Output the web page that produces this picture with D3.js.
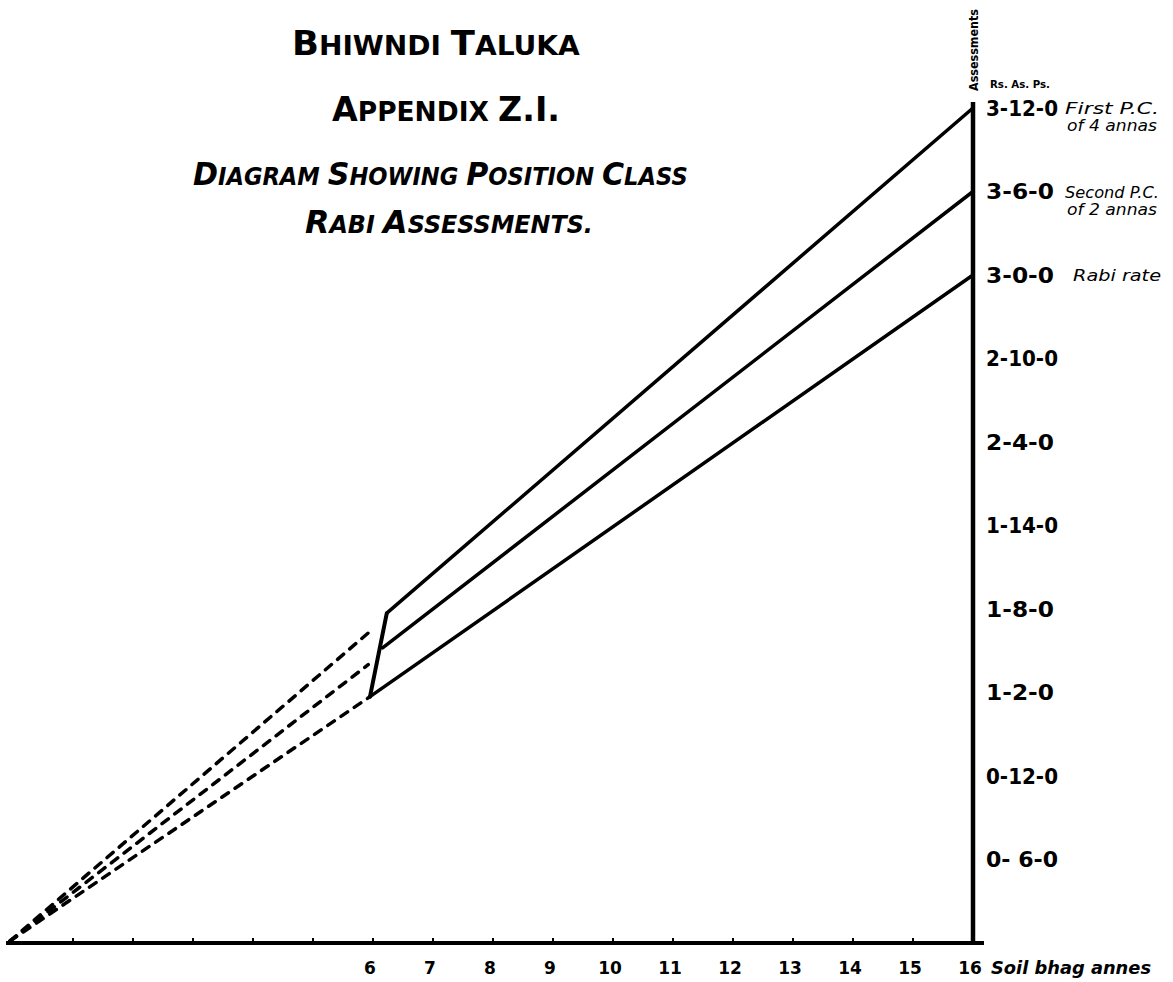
<!DOCTYPE html>
<html>
<head>
<meta charset="utf-8">
<script src="https://cdn.jsdelivr.net/npm/d3@7"></script>
<style>
  body { margin: 0; background: #fff; }
  text { font-family: "DejaVu Sans", sans-serif; fill: #000; }
</style>
</head>
<body>
<script>
// Data (assessment in annas, 16 annas = 1 rupee)
const soilAnnas = [6, 7, 8, 9, 10, 11, 12, 13, 14, 15, 16]
const minorTicks = [1, 2, 3, 4, 5]
const assessTicks = [6, 12, 18, 24, 30, 36, 42, 48, 54, 60]
const assessLabels = ["0- 6-0", "0-12-0", "1-2-0", "1-8-0", "1-14-0", "2-4-0", "2-10-0", "3-0-0", "3-6-0", "3-12-0"]

const seriesNames = ["First P.C. of 4 annas", "Second P.C. of 2 annas", "Rabi rate"]
// solid part : starts on the slanted joining line, ends at 16 annas soil
const solidStartSoil = [6.23, 6.16, 5.95]
const solidStartValue = [23.7, 21.2, 17.7]
const solidEndValue = [60, 54, 48]
// dashed part : from the origin to 6 annas soil
const dashedEndSoil = [5.98, 5.92, 5.95]
const dashedEndValue = [22.5, 20.0, 17.7]

const width = 1173, height = 982

const svg = d3.select("body")
        .append("svg")
        .attr("width", width)
        .attr("height", height)
        .style("background-color", "#fff")

const x = d3.scaleLinear().domain([0, 16]).range([13, 973])
const y = d3.scaleLinear().domain([0, 60]).range([943, 108])

// squeeze or stretch a text horizontally so it covers [x0, x0 + w]
function fitText(t, x0, y0, w) {
        const box = t.node().getBBox()
        const k = w / box.width
        t.attr("x", 0).attr("y", 0)
                .attr("transform", `translate(${x0},${y0}) scale(${k},1)`)
}

// Titles (small caps written by hand)
function smallCaps(parts, attrs) {
        const t = svg.append("text").attr("font-weight", "bold")
        if (attrs.italic) t.attr("font-style", "italic")
        parts.forEach(p => {
                t.append("tspan")
                        .attr("font-size", p[1])
                        .text(p[0])
        })
        fitText(t, attrs.x, attrs.y, attrs.w)
}

smallCaps([["B", 34], ["HIWNDI ", 27], ["T", 34], ["ALUKA", 27]], {x: 292, y: 55, w: 288})
smallCaps([["A", 34], ["PPENDIX ", 27], ["Z.I.", 34]], {x: 332, y: 121, w: 228})
smallCaps([["D", 32], ["IAGRAM ", 24], ["S", 32], ["HOWING ", 24], ["P", 32], ["OSITION ", 24], ["C", 32], ["LASS", 24]],
        {x: 193, y: 185, w: 495, italic: true})
smallCaps([["R", 32], ["ABI ", 24], ["A", 32], ["SSESSMENTS.", 24]], {x: 305, y: 233, w: 288, italic: true})

// Axes
svg.append("line")
        .attr("x1", 6).attr("x2", 984)
        .attr("y1", y(0)).attr("y2", y(0))
        .attr("stroke", "#000").attr("stroke-width", 4)

svg.append("line")
        .attr("x1", x(16)).attr("x2", x(16))
        .attr("y1", y(0) + 2).attr("y2", 102)
        .attr("stroke", "#000").attr("stroke-width", 4.5)

// small marks on the bottom line
svg.selectAll(".tick")
        .data(minorTicks.concat(soilAnnas.slice(0, 10)))
        .enter()
        .append("line")
                .attr("x1", d => x(d)).attr("x2", d => x(d))
                .attr("y1", y(0) - 5).attr("y2", y(0))
                .attr("stroke", "#000").attr("stroke-width", 2)

svg.selectAll(".xlab")
        .data(soilAnnas)
        .enter()
        .append("text")
                .attr("x", d => x(d) - 3)
                .attr("y", 974)
                .attr("text-anchor", "middle")
                .attr("font-weight", "bold")
                .attr("font-size", 17)
                .text(d => d)

svg.append("text")
        .attr("x", 991).attr("y", 974)
        .attr("font-weight", "bold").attr("font-style", "italic")
        .attr("font-size", 18)
        .attr("textLength", 160).attr("lengthAdjust", "spacingAndGlyphs")
        .text("Soil bhag annes")

svg.selectAll(".ylab")
        .data(assessTicks)
        .enter()
        .append("text")
                .attr("x", 986)
                .attr("y", d => y(d))
                .attr("dy", "0.36em")
                .attr("font-weight", "bold")
                .attr("font-size", 21)
                .attr("textLength", (d, i) => assessLabels[i].length > 5 ? 72 : 68)
                .attr("lengthAdjust", "spacingAndGlyphs")
                .text((d, i) => assessLabels[i])

svg.append("text")
        .attr("transform", `translate(${x(16) + 5},50) rotate(-90)`)
        .attr("text-anchor", "middle")
        .attr("font-weight", "bold")
        .attr("font-size", 12)
        .attr("textLength", 82).attr("lengthAdjust", "spacingAndGlyphs")
        .text("Assessments")

svg.append("text")
        .attr("x", 990).attr("y", 88)
        .attr("font-weight", "bold")
        .attr("font-size", 11)
        .attr("textLength", 60).attr("lengthAdjust", "spacingAndGlyphs")
        .text("Rs. As. Ps.")

// series names beside the right scale
const nameLines = [["First P.C.", "of 4 annas"], ["Second P.C.", "of 2 annas"], ["Rabi rate"]]
nameLines.forEach((lines, i) => {
        lines.forEach((s, j) => {
                svg.append("text")
                        .attr("x", i == 2 ? 1073 : 1065 + j * 2)
                        .attr("y", y(solidEndValue[i]) + 6 + j * 17)
                        .attr("font-style", "italic")
                        .attr("font-size", 15)
                        .attr("textLength", i == 2 ? 88 : 94 - j * 4)
                        .attr("lengthAdjust", "spacingAndGlyphs")
                        .text(s)
        })
})

// Lines
const lines = svg.append("g")

lines.selectAll(".solid")
        .data(seriesNames)
        .enter()
        .append("line")
                .attr("x1", (d, i) => x(solidStartSoil[i]))
                .attr("y1", (d, i) => y(solidStartValue[i]))
                .attr("x2", x(16))
                .attr("y2", (d, i) => y(solidEndValue[i]))
                .attr("stroke", "#000").attr("stroke-width", 3.5)
                .attr("stroke-linecap", "round")

lines.selectAll(".dashed")
        .data(seriesNames)
        .enter()
        .append("line")
                .attr("x1", x(0) - 3)
                .attr("y1", y(0) - 2)
                .attr("x2", (d, i) => x(dashedEndSoil[i]))
                .attr("y2", (d, i) => y(dashedEndValue[i]))
                .attr("stroke", "#000").attr("stroke-width", 3.5)
                .attr("stroke-dasharray", "8,8")
                .attr("stroke-linecap", "round")

// slanted line joining the three starts
lines.append("line")
        .attr("x1", x(solidStartSoil[2])).attr("y1", y(solidStartValue[2]))
        .attr("x2", x(solidStartSoil[0])).attr("y2", y(solidStartValue[0]))
        .attr("stroke", "#000").attr("stroke-width", 4)
        .attr("stroke-linecap", "round")
</script>
</body>
</html>
